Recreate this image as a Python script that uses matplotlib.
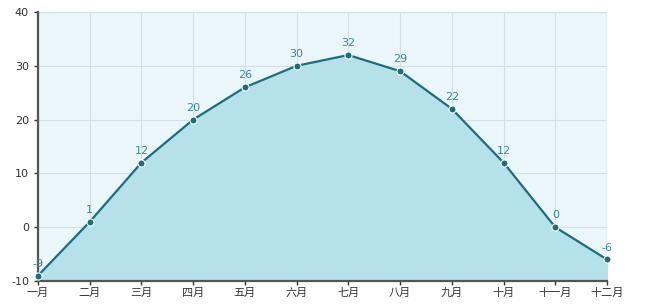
import matplotlib
matplotlib.use("Agg")
import matplotlib.pyplot as plt

plt.rcParams['font.family'] = ['DejaVu Sans', 'Noto Sans CJK SC']
plt.rcParams['axes.unicode_minus'] = False

months = ['一月', '二月', '三月', '四月', '五月', '六月', '七月', '八月', '九月', '十月', '十一月', '十二月']
temps = [-9, 1, 12, 20, 26, 30, 32, 29, 22, 12, 0, -6]
yticks = [-10, 0, 10, 20, 30, 40]

fig = plt.figure(figsize=(6.5, 3.06), dpi=100)
ax = fig.add_axes([38/650, 25/306, (607-38)/650, (281-12)/306])
ax.set_facecolor('#eaf6f9')

x = list(range(len(months)))
ax.fill_between(x, temps, -10, color='#b5e1eb', zorder=2)
ax.plot(x, temps, color='#1c6e7e', lw=1.6, zorder=3)
ax.scatter(x, temps, s=26, color='#1c6e7e', edgecolor='white', linewidth=0.8, zorder=4, clip_on=False)
for xi, v in zip(x, temps):
    ax.annotate(str(v), (xi, v), xytext=(0, 5), textcoords='offset points',
                ha='center', va='bottom', fontsize=8, color='#3a8796', zorder=5)

ax.set_xlim(0, 11)
ax.set_ylim(-10, 40)
ax.set_xticks(x)
ax.set_xticklabels(months, family=['Noto Sans CJK SC', 'DejaVu Sans'])
ax.set_yticks(yticks)
ax.grid(True, color='#d0e0e5', lw=0.8, zorder=1)
ax.set_axisbelow(True)

for s in ['top', 'right']:
    ax.spines[s].set_visible(False)
ax.spines['left'].set_color('#555555')
ax.spines['left'].set_linewidth(1.6)
ax.spines['bottom'].set_color('#555555')
ax.spines['bottom'].set_linewidth(1.6)
ax.tick_params(axis='both', labelsize=8, colors='#333333', length=3, width=1)
ax.tick_params(axis='x', pad=2)

fig.savefig('out.png', dpi=100)
